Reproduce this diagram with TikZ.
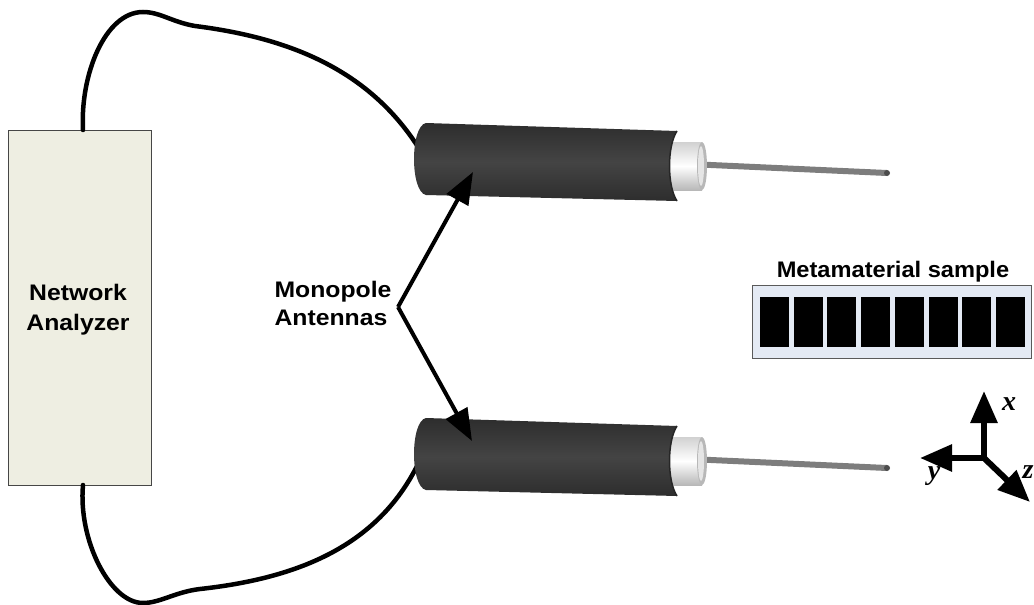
\documentclass[tikz,border=0pt]{standalone}
\usepackage{fontspec}
\usepackage{graphicx}
\setmainfont{Liberation Sans}
\newfontfamily\axisfont{Liberation Serif}
\usetikzlibrary{arrows.meta}

\definecolor{nabg}{RGB}{238,238,226}
\definecolor{nabd}{RGB}{70,70,70}
\definecolor{msbg}{RGB}{228,234,244}
\definecolor{msbd}{RGB}{90,90,90}
\definecolor{jacket}{RGB}{68,68,68}
\definecolor{jacketdark}{RGB}{45,45,45}
\definecolor{wiregray}{RGB}{125,125,125}

\newcommand{\widetext}[1]{\scalebox{1.1}[1]{#1}}

\tikzset{
  lbl/.style={font=\fontsize{22.5}{26}\selectfont\bfseries, inner sep=0pt, anchor=base},
  axlbl/.style={font=\axisfont\fontsize{28}{30}\selectfont\bfseries\itshape, inner sep=0pt},
  cable/.style={line width=4.5pt, line cap=round, black},
  pointer/.style={line width=4pt, -{Triangle[length=32pt,width=24pt]}},
  axisarrow/.style={line width=6pt, -{Triangle[length=32pt,width=26pt]}},
  cell/.style={fill=black},
}

\begin{document}
\begin{tikzpicture}[x=1pt,y=-1pt]
\useasboundingbox (0,0) rectangle (1034,605);

% --- network analyzer ---
\node[draw=nabd, fill=nabg, line width=1pt, minimum width=143pt, minimum height=355pt, inner sep=0pt] (na) at (79.5,307.5) {};
\node[lbl] (naA) at (78,300) {\widetext{Network}};
\node[lbl] (naB) at (78,330) {\widetext{Analyzer}};

% cable end points
\coordinate (naTop) at (83,130);
\coordinate (naBot) at (83,485);
\coordinate (antTop) at (420,150);
\coordinate (antBot) at (420,460);

% --- cables ---
\draw[cable] (naTop) .. controls (80,75) and (105,12) .. (143,12)
  .. controls (160,12) and (172,22) .. (195,26)
  .. controls (290,38) and (370,70) .. (antTop);
\draw[cable] (naBot) .. controls (78,540) and (110,603) .. (143,603)
  .. controls (160,603) and (175,592) .. (200,589)
  .. controls (300,578) and (380,545) .. (antBot);

% --- monopole antennas ---
\foreach \dy in {0,295}{
\begin{scope}[shift={(0,\dy)}]
  % probe wire
  \fill[wiregray] (700,161.5) -- (887,170) -- (887,176) -- (700,167.5) -- cycle;
  \fill[black!70] (887,173) ellipse [x radius=3, y radius=3];
  % dielectric
  \shade[top color=black!18, bottom color=black!28, middle color=white]
    (664,142) -- (702,142) -- (702,190) -- (664,190) -- cycle;
  \fill[black!28] (702,166) ellipse [x radius=5, y radius=24];
  \fill[black!10] (701,166) ellipse [x radius=3, y radius=20];
  % outer jacket
  \shade[top color=jacketdark, bottom color=jacketdark, middle color=jacket]
    (426,123) -- (677,131) .. controls (667,146) and (667,186) .. (677,201)
    -- (426,195) .. controls (410,192) and (410,126) .. (426,123) -- cycle;
  \draw[black!85, line width=1.5pt] (677,131) .. controls (667,146) and (667,186) .. (677,201);
\end{scope}
}

% --- label with pointers ---
\node[lbl] (mpA) at (333,297) {\widetext{Monopole}};
\node[lbl] (mpB) at (331,325) {\widetext{Antennas}};
\coordinate (apex) at (398,307);
\coordinate (tipT) at (473,172);
\coordinate (tipB) at (472,441);
\draw[pointer] (apex) -- (tipT);
\draw[pointer] (apex) -- (tipB);

% --- metamaterial sample ---
\node[lbl] (msl) at (893,277) {\scalebox{1.05}[1]{Metamaterial sample}};
\node[draw=msbd, fill=msbg, line width=1pt, minimum width=279pt, minimum height=73pt, inner sep=0pt] (ms) at (891.5,321.5) {};
\foreach \i in {0,...,7}{
  \fill[cell] ({760+33.7*\i},297) rectangle ({789+33.7*\i},347);
}

% --- coordinate axes ---
\coordinate (org) at (984,458);
\coordinate (ax) at (984,391);
\coordinate (ay) at (920,458);
\coordinate (az) at (1030,502);
\draw[axisarrow] ([yshift=-3pt]org) -- (ax);
\draw[axisarrow] ([xshift=3pt]org) -- (ay);
\draw[axisarrow] (org) -- (az);
\node[axlbl] (lx) at (1009,404) {x};
\node[axlbl] (ly) at (934,476) {y};
\node[axlbl] (lz) at (1028,472) {z};
\end{tikzpicture}
\end{document}
